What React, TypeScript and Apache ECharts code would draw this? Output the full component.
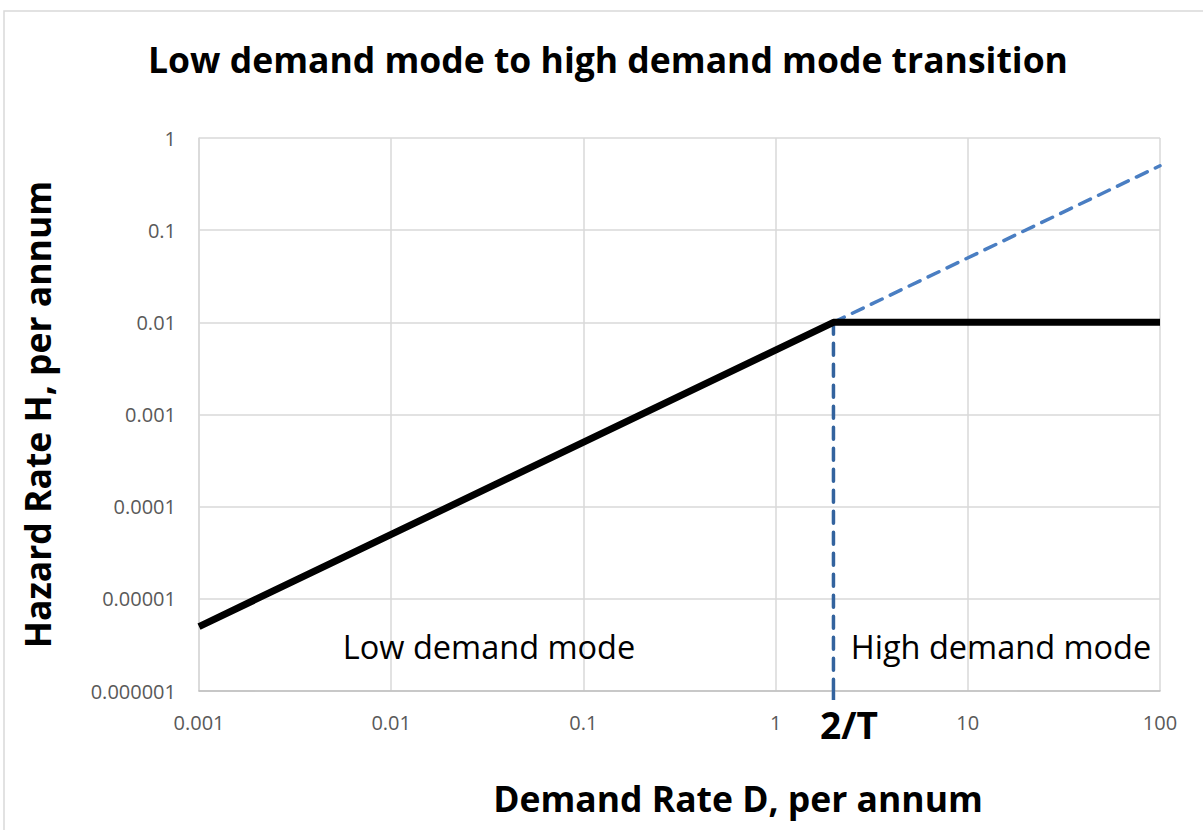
import React, { useEffect, useRef } from "react";
import * as echarts from "echarts";

const titleText = "Low demand mode to high demand mode transition";
const xAxisName = "Demand Rate D, per annum";
const yAxisName = "Hazard Rate H, per annum";
const xMin = 0.001;
const xMax = 100;
const yMin = 0.000001;
const yMax = 1;
const transitionD = 2;
const hazardLine: [number, number][] = [
  [0.001, 0.000005],
  [2, 0.01],
  [100, 0.01],
];
const extrapolatedLine: [number, number][] = [
  [2, 0.01],
  [100, 0.5],
];
const transitionLine: [number, number][] = [
  [2, 0.01],
  [2, 0.000001],
];
const lowLabel = "Low demand mode";
const highLabel = "High demand mode";
const transitionLabel = "2/T";

const FONT = "'Open Sans', 'Noto Sans', sans-serif";

function fmt(v: number): string {
  const e = Math.round(Math.log10(v));
  if (e >= 0) return String(Math.pow(10, e));
  return "0." + "0".repeat(-e - 1) + "1";
}

export default function App() {
  const ref = useRef<HTMLDivElement>(null);
  useEffect(() => {
    document.body.style.margin = "0";
    if (!ref.current) return;
    const chart = echarts.init(ref.current, undefined, { renderer: "svg" });
    const option: any = {
      animation: false,
      backgroundColor: "#ffffff",
      textStyle: { fontFamily: FONT },
      title: {
        text: titleText,
        left: 603,
        textAlign: "center",
        top: 36,
        textStyle: { fontFamily: FONT, fontSize: 35.5, fontWeight: "bold", color: "#000" },
      },
      grid: { left: 199, right: 43, top: 138, bottom: 139 },
      xAxis: {
        type: "log",
        logBase: 10,
        min: xMin,
        max: xMax,
        name: xAxisName,
        nameLocation: "middle",
        nameGap: 89,
        nameTextStyle: {
          fontFamily: FONT,
          fontSize: 35.5,
          fontWeight: "bold",
          color: "#000",
          padding: [0, 0, 0, 117],
        },
        axisLine: { show: true, lineStyle: { color: "#bfbfbf", width: 1.5 } },
        axisTick: { show: false },
        splitLine: { show: true, lineStyle: { color: "#d9d9d9", width: 1.5 } },
        axisLabel: {
          formatter: fmt,
          color: "#595959",
          fontSize: 20,
          margin: 21,
          fontFamily: FONT,
        },
      },
      yAxis: {
        type: "log",
        logBase: 10,
        min: yMin,
        max: yMax,
        name: yAxisName,
        nameLocation: "middle",
        nameGap: 144,
        nameTextStyle: { fontFamily: FONT, fontSize: 35.5, fontWeight: "bold", color: "#000" },
        axisLine: { show: true, lineStyle: { color: "#d9d9d9", width: 1.5 } },
        axisTick: { show: false },
        splitLine: { show: true, lineStyle: { color: "#d9d9d9", width: 1.5 } },
        axisLabel: {
          formatter: fmt,
          color: "#595959",
          fontSize: 20,
          margin: 23,
          fontFamily: FONT,
        },
      },
      series: [
        {
          type: "line",
          data: extrapolatedLine,
          symbol: "none",
          lineStyle: { color: "#4a7ec2", width: 3.5, type: [12, 9], cap: "round" },
          z: 2,
        },
        {
          type: "line",
          data: transitionLine,
          symbol: "none",
          lineStyle: { color: "#33639e", width: 3.5, type: [12, 9], cap: "round" },
          z: 2,
        },
        {
          type: "line",
          data: hazardLine,
          symbol: "none",
          lineStyle: { color: "#000000", width: 7 },
          z: 3,
        },
      ],
    };
    chart.setOption(option);
    const bottomPt = chart.convertToPixel({ gridIndex: 0 }, [transitionD, yMin]) as number[];
    chart.setOption({
      graphic: [
        {
          type: "rect",
          shape: { x: 4, y: 11, width: 1220, height: 840 },
          style: { fill: "none", stroke: "#d9d9d9", lineWidth: 1.5 },
          silent: true,
          z: -1,
        },
        {
          type: "line",
          shape: { x1: bottomPt[0], y1: bottomPt[1], x2: bottomPt[0], y2: bottomPt[1] + 18 },
          style: { stroke: "#33639e", lineWidth: 3.5, lineDash: [12, 9], lineDashOffset: 3 },
        },
        {
          type: "text",
          x: 489,
          y: 646,
          style: {
            text: lowLabel,
            align: "center",
            verticalAlign: "middle",
            fontSize: 32.5,
            fontFamily: FONT,
            fill: "#000",
          },
        },
        {
          type: "text",
          x: 1001,
          y: 646,
          style: {
            text: highLabel,
            align: "center",
            verticalAlign: "middle",
            fontSize: 32.5,
            fontFamily: FONT,
            fill: "#000",
          },
        },
        {
          type: "text",
          x: 849,
          y: 724,
          style: {
            text: transitionLabel,
            align: "center",
            verticalAlign: "middle",
            fontSize: 37,
            fontWeight: "bold",
            fontFamily: FONT,
            fill: "#000",
          },
        },
      ],
    });
    return () => chart.dispose();
  }, []);
  return <div ref={ref} style={{ width: 1203, height: 830 }} />;
}
